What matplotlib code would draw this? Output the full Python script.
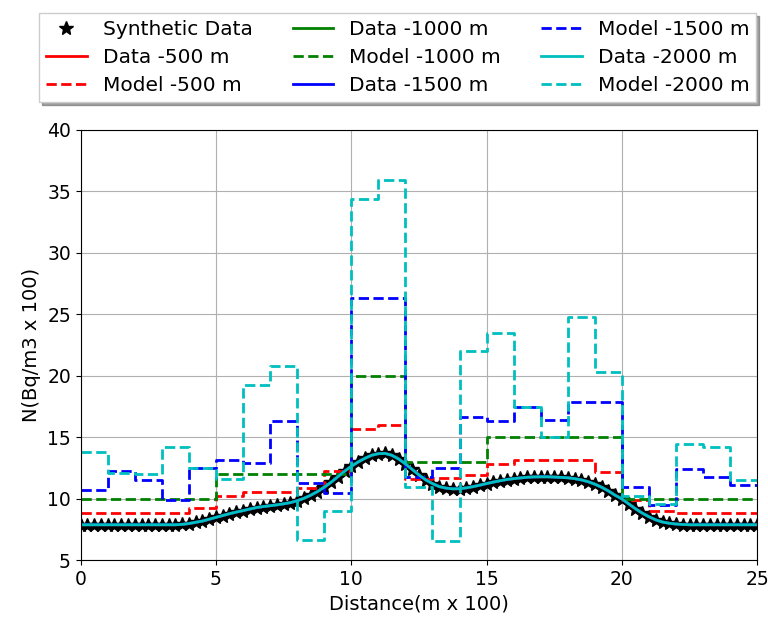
import matplotlib
matplotlib.use('Agg')
import matplotlib.pyplot as plt
import numpy as np

# distancia de los puntos sinteticos (m x 100)
distancia = np.arange(0, 25.01, 0.25)

# datos sinteticos
sinteticos = [7.9, 7.9, 7.9, 7.9, 7.9, 7.9, 7.9, 7.9, 7.9, 7.9, 7.9, 7.9, 7.9, 7.9, 7.9,
              7.93, 8.0, 8.1, 8.2, 8.35, 8.5, 8.65, 8.8, 8.93, 9.05, 9.18, 9.3, 9.38,
              9.45, 9.52, 9.6, 9.7, 9.85, 10.05, 10.3, 10.6, 10.95, 11.35, 11.8, 12.25,
              12.65, 13.0, 13.3, 13.55, 13.68, 13.7, 13.55, 13.25, 12.85, 12.4, 11.95,
              11.55, 11.25, 11.0, 10.88, 10.82, 10.83, 10.9, 11.0, 11.12, 11.25, 11.37,
              11.48, 11.58, 11.65, 11.71, 11.76, 11.79, 11.8, 11.8, 11.78, 11.75, 11.72,
              11.65, 11.55, 11.4, 11.2, 10.95, 10.65, 10.3, 10.0, 9.6, 9.2, 8.85, 8.55,
              8.3, 8.12, 8.02, 7.96, 7.92,
              7.9, 7.9, 7.9, 7.9, 7.9, 7.9, 7.9, 7.9, 7.9, 7.9, 7.9]

# bordes de las celdas del modelo
bordes = np.arange(0, 26, 1)

# modelos por celda (25 celdas)
modelo_500 = [8.85, 8.85, 8.85, 8.85, 9.3, 10.2, 10.6, 10.6, 10.9, 12.3,
              15.7, 16.0, 11.6, 11.7, 11.95, 12.8, 13.2, 13.2, 13.2, 12.2,
              9.9, 9.0, 8.85, 8.85, 8.85]
modelo_1000 = [10, 10, 10, 10, 10, 12, 12, 12, 12, 12,
               20, 20, 13, 13, 13, 15, 15, 15, 15, 15,
               10, 10, 10, 10, 10]
modelo_1500 = [10.7, 12.3, 11.5, 9.9, 12.5, 13.2, 12.9, 16.3, 11.3, 10.5,
               26.3, 26.3, 11.8, 12.5, 16.7, 16.3, 17.5, 16.4, 17.9, 17.9,
               11.0, 9.5, 12.4, 11.8, 11.1]
modelo_2000 = [13.8, 12.1, 12.0, 14.2, 12.5, 11.6, 19.3, 20.8, 6.7, 9.0,
               34.4, 35.9, 11.0, 6.55, 22.0, 23.5, 17.5, 15.05, 24.8, 20.3,
               10.2, 9.6, 14.5, 14.25, 11.5]

profundidades = ['-500 m', '-1000 m', '-1500 m', '-2000 m']
modelos = [modelo_500, modelo_1000, modelo_1500, modelo_2000]
colores = ['r', 'g', 'b', 'c']

fig = plt.figure(figsize=(7.68, 6.22), dpi=100)
ax = fig.add_axes([0.105, 0.099, 0.881, 0.692])

ax.plot(distancia, sinteticos, '*', color='black', markersize=10, label='Synthetic Data')

for prof, mod, col in zip(profundidades, modelos, colores):
    ax.plot(distancia, sinteticos, '-', color=col, linewidth=2, label='Data ' + prof)
    ax.plot(bordes, mod + [mod[-1]], '--', color=col, linewidth=2,
            drawstyle='steps-post', label='Model ' + prof)

ax.set_xlim(0, 25)
ax.set_ylim(5, 40)
ax.set_xticks([0, 5, 10, 15, 20, 25])
ax.set_yticks([5, 10, 15, 20, 25, 30, 35, 40])
ax.tick_params(labelsize=13.5)
ax.grid(True, color='#b0b0b0')
ax.set_xlabel('Distance(m x 100)', fontsize=14)
ax.set_ylabel('N(Bq/m3 x 100)', fontsize=14)

fig.legend(loc='upper center', bbox_to_anchor=(0.518, 0.995), ncol=3,
           fontsize=14.5, shadow=True, fancybox=False, columnspacing=2.0,
           handlelength=2.0, labelspacing=0.45, borderpad=0.35)

plt.savefig('out.png', dpi=100)
